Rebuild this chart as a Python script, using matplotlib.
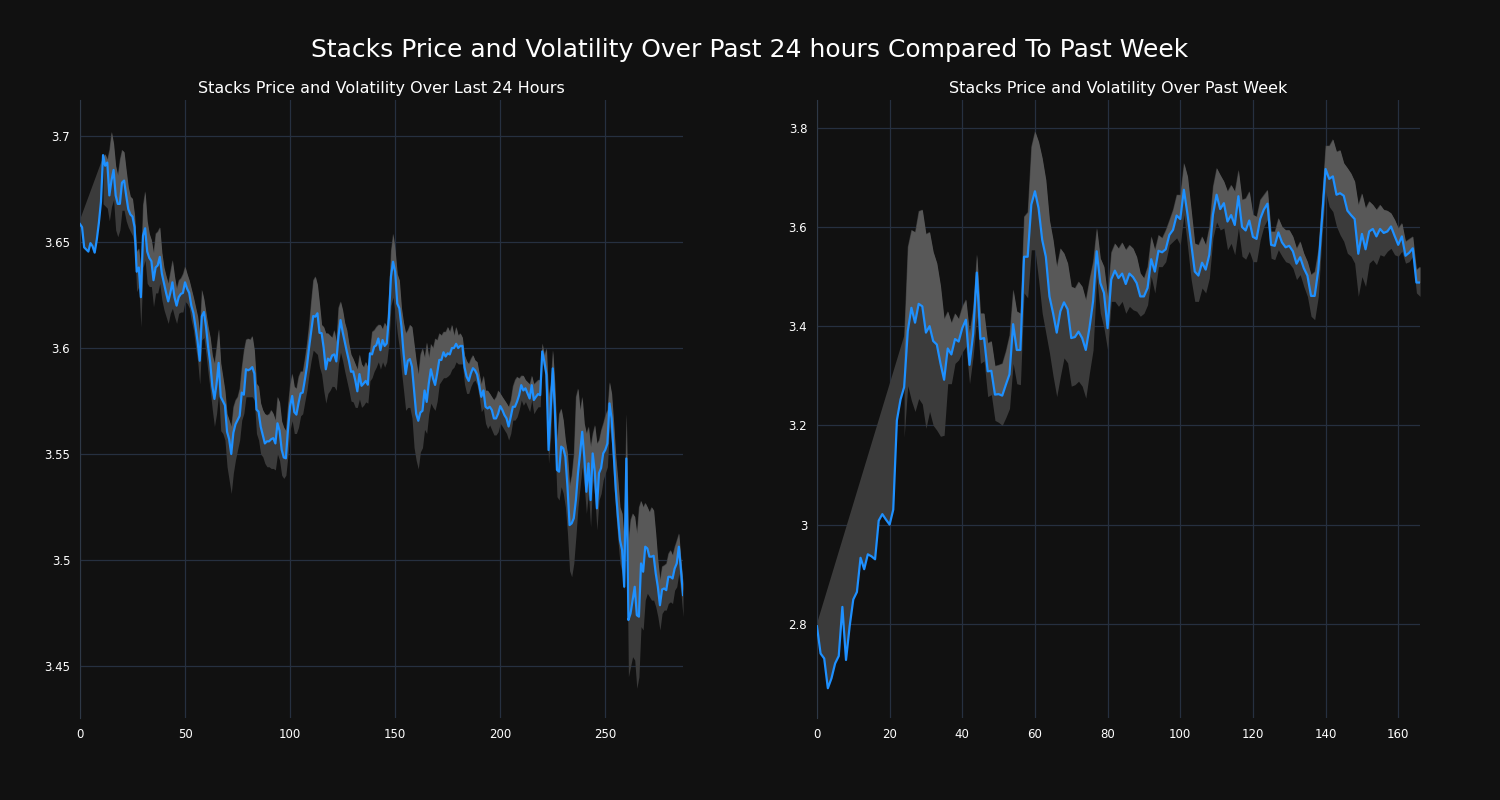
#!/usr/bin/env python

# Import necessary dependencies.
import numpy as np
import matplotlib.pyplot as plt
from matplotlib.ticker import FuncFormatter

# Last 24 hours (5 minute candles): price and band edges.
day_price = [
    3.6585, 3.657, 3.6475, 3.6465, 3.6455, 3.6495, 3.648, 3.645, 3.651, 3.659,
    3.669, 3.691, 3.686, 3.6875, 3.672, 3.679, 3.684, 3.672, 3.668, 3.668,
    3.678, 3.679, 3.672, 3.6655, 3.663, 3.662, 3.657, 3.636, 3.638, 3.624,
    3.653, 3.6565, 3.6455, 3.6425, 3.641, 3.632, 3.638, 3.639, 3.643, 3.635,
    3.6305, 3.626, 3.622, 3.626, 3.631, 3.624, 3.620, 3.624, 3.6255, 3.626,
    3.631, 3.628, 3.626, 3.620, 3.6165, 3.610, 3.603, 3.594, 3.615, 3.617,
    3.610, 3.6005, 3.593, 3.582, 3.576, 3.583, 3.593, 3.577, 3.575, 3.573,
    3.5605, 3.557, 3.550, 3.560, 3.564, 3.566, 3.568, 3.579, 3.578, 3.590,
    3.5895, 3.590, 3.591, 3.588, 3.571, 3.570, 3.563, 3.559, 3.555, 3.556,
    3.556, 3.557, 3.5575, 3.555, 3.5645, 3.561, 3.552, 3.5484, 3.548, 3.5616,
    3.5726, 3.5774, 3.5698, 3.5686, 3.574, 3.5786, 3.579, 3.5849, 3.5912, 3.600,
    3.6077, 3.6151, 3.6148, 3.6164, 3.6072, 3.607, 3.600, 3.590, 3.595, 3.594,
    3.5965, 3.597, 3.5937, 3.6053, 3.6132, 3.6077, 3.603, 3.5983, 3.594, 3.5888,
    3.589, 3.5849, 3.5796, 3.5877, 3.5822, 3.5833, 3.5845, 3.5827, 3.5975, 3.597,
    3.6006, 3.6013, 3.6045, 3.599, 3.6038, 3.601, 3.6022, 3.614, 3.6337, 3.6407,
    3.636, 3.621, 3.6187, 3.610, 3.5975, 3.5877, 3.594, 3.5948, 3.5912, 3.580,
    3.569, 3.5657, 3.5696, 3.5704, 3.580, 3.5746, 3.5833, 3.590, 3.5857, 3.5826,
    3.5881, 3.5944, 3.5944, 3.598, 3.596, 3.5975, 3.597, 3.600, 3.600, 3.602,
    3.600, 3.601, 3.601, 3.591, 3.5865, 3.5845, 3.588, 3.5905, 3.5895, 3.5875,
    3.5825, 3.577, 3.580, 3.5723, 3.5715, 3.5723, 3.5708, 3.5668, 3.5668, 3.569,
    3.5726, 3.5708, 3.5684, 3.5668, 3.563, 3.5675, 3.5723, 3.5723, 3.5747, 3.5778,
    3.5825, 3.580, 3.581, 3.5786, 3.5762, 3.5825, 3.5755, 3.577, 3.5783, 3.5778,
    3.5984, 3.5936, 3.5873, 3.5519, 3.5708, 3.5904, 3.5708, 3.5425, 3.5417, 3.5535,
    3.5527, 3.5487, 3.5346, 3.5165, 3.5173, 3.5197, 3.5283, 3.541, 3.5503, 3.5605,
    3.5487, 3.5322, 3.5456, 3.5283, 3.5503, 3.5417, 3.5244, 3.541, 3.5434, 3.5503,
    3.552, 3.555, 3.5739, 3.5668, 3.5503, 3.533, 3.5205, 3.5094, 3.5047, 3.4874,
    3.5479, 3.4717, 3.4748, 3.481, 3.4874, 3.474, 3.4733, 3.4984, 3.4945, 3.5063,
    3.5055, 3.5016, 3.5016, 3.502, 3.4937, 3.4874, 3.4787, 3.4861, 3.4866, 3.4858,
    3.4921, 3.4921, 3.4913, 3.496, 3.4984, 3.5063, 3.4953, 3.4835,
]

day_upper = [3.6604] + [None] * 10 + [
    3.690, 3.6915, 3.689, 3.6935, 3.702, 3.6965, 3.686, 3.6815, 3.689,
    3.6935, 3.6925, 3.684, 3.676, 3.6715, 3.6705, 3.6627, 3.6455, 3.647, 3.637,
    3.6675, 3.674, 3.660, 3.654, 3.651, 3.645, 3.654, 3.655, 3.657, 3.645,
    3.638, 3.634, 3.6305, 3.636, 3.6415, 3.634, 3.628, 3.632, 3.633, 3.635,
    3.6385, 3.635, 3.632, 3.628, 3.624, 3.6195, 3.615, 3.607, 3.6275, 3.623,
    3.6165, 3.610, 3.605, 3.5967, 3.5928, 3.6006, 3.609, 3.593, 3.5865, 3.580,
    3.569, 3.566, 3.563, 3.5723, 3.5755, 3.577, 3.581, 3.591, 3.599, 3.604,
    3.6045, 3.604, 3.6057, 3.599, 3.5833, 3.582, 3.574, 3.5708, 3.569, 3.5684,
    3.569, 3.5708, 3.569, 3.566, 3.577, 3.5745, 3.5655, 3.5626, 3.561, 3.573,
    3.583, 3.588, 3.5818, 3.581, 3.5865, 3.589, 3.589, 3.595, 3.602, 3.611,
    3.622, 3.632, 3.6338, 3.630, 3.621, 3.611, 3.610, 3.607, 3.607, 3.606,
    3.605, 3.6085, 3.603, 3.619, 3.622, 3.618, 3.612, 3.6085, 3.602, 3.597,
    3.595, 3.5925, 3.590, 3.597, 3.5925, 3.591, 3.5935, 3.591, 3.599, 3.6077,
    3.6085, 3.610, 3.611, 3.611, 3.609, 3.612, 3.610, 3.624, 3.646, 3.654,
    3.646, 3.635, 3.632, 3.619, 3.612, 3.607, 3.6085, 3.611, 3.610, 3.602,
    3.594, 3.5877, 3.597, 3.600, 3.5955, 3.6027, 3.5955, 3.602, 3.600, 3.6045,
    3.6038, 3.607, 3.606, 3.6077, 3.6077, 3.610, 3.6077, 3.611, 3.606, 3.610,
    3.606, 3.607, 3.605, 3.5967, 3.594, 3.5925, 3.595, 3.5967, 3.5943, 3.5935,
    3.588, 3.583, 3.587, 3.580, 3.580, 3.5786, 3.577, 3.5755, 3.577, 3.580,
    3.5786, 3.577, 3.5755, 3.574, 3.5723, 3.5755, 3.582, 3.585, 3.5865, 3.5857,
    3.587, 3.587, 3.585, 3.584, 3.583, 3.587, 3.583, 3.584, 3.585, 3.585,
    3.6022, 3.5967, 3.600, 3.577, 3.583, 3.599, 3.583, 3.5566, 3.569, 3.5715,
    3.566, 3.5566, 3.5503, 3.535, 3.540, 3.550, 3.577, 3.581, 3.5708, 3.577,
    3.5645, 3.5597, 3.563, 3.5535, 3.5597, 3.5637, 3.555, 3.5566, 3.5613, 3.5645,
    3.5684, 3.5708, 3.584, 3.5786, 3.5645, 3.5487, 3.5378, 3.525, 3.522, 3.5094,
    3.569, 3.5094, 3.519, 3.522, 3.5205, 3.5126, 3.525, 3.528, 3.525, 3.527,
    3.525, 3.5227, 3.525, 3.5235, 3.5126, 3.500, 3.4906, 3.497, 3.4976, 3.4984,
    3.5031, 3.5047, 3.5023, 3.5063, 3.5094, 3.5126, 3.500, 3.489,
]

day_lower = [None] * 11 + [
    3.668, 3.667, 3.666, 3.660, 3.6667, 3.670, 3.6557, 3.6525, 3.6557,
    3.665, 3.665, 3.660, 3.657, 3.655, 3.653, 3.648, 3.6266, 3.629, 3.610,
    3.638, 3.6415, 3.6305, 3.629, 3.629, 3.6195, 3.626, 3.626, 3.6305, 3.6226,
    3.618, 3.6148, 3.6116, 3.6164, 3.6187, 3.6148, 3.6116, 3.6164, 3.617, 3.617,
    3.622, 3.621, 3.619, 3.613, 3.6085, 3.6006, 3.594, 3.583, 3.6038, 3.605,
    3.597, 3.588, 3.580, 3.5708, 3.563, 3.569, 3.5786, 3.561, 3.5597, 3.5566,
    3.544, 3.5377, 3.5314, 3.541, 3.5472, 3.552, 3.5566, 3.566, 3.5692, 3.577,
    3.577, 3.577, 3.577, 3.5755, 3.5597, 3.5566, 3.550, 3.5487, 3.5456, 3.544,
    3.544, 3.5432, 3.5432, 3.5425, 3.550, 3.547, 3.540, 3.5385, 3.540, 3.5495,
    3.5616, 3.5657, 3.5597, 3.5597, 3.5626, 3.568, 3.569, 3.5746, 3.580, 3.5877,
    3.594, 3.599, 3.598, 3.597, 3.591, 3.5877, 3.580, 3.574, 3.5786, 3.580,
    3.582, 3.5818, 3.580, 3.5925, 3.598, 3.594, 3.589, 3.5845, 3.580, 3.575,
    3.5746, 3.572, 3.572, 3.576, 3.572, 3.573, 3.5746, 3.574, 3.5845, 3.586,
    3.589, 3.591, 3.5935, 3.590, 3.5935, 3.591, 3.5935, 3.602, 3.620, 3.624,
    3.616, 3.607, 3.600, 3.589, 3.580, 3.5706, 3.572, 3.572, 3.567, 3.553,
    3.547, 3.543, 3.551, 3.553, 3.5616, 3.5597, 3.569, 3.574, 3.572, 3.5706,
    3.575, 3.583, 3.5845, 3.586, 3.586, 3.5867, 3.5877, 3.590, 3.591, 3.5935,
    3.5925, 3.5925, 3.5925, 3.583, 3.5786, 3.5786, 3.5818, 3.584, 3.5849, 3.5825,
    3.577, 3.570, 3.5715, 3.5645, 3.562, 3.5637, 3.5613, 3.559, 3.559, 3.5605,
    3.5645, 3.563, 3.5613, 3.5597, 3.5566, 3.5597, 3.566, 3.566, 3.5675, 3.5708,
    3.5755, 3.573, 3.5747, 3.5723, 3.570, 3.5755, 3.569, 3.5708, 3.5723, 3.5723,
    3.5936, 3.5896, 3.5723, 3.5456, 3.558, 3.5817, 3.5566, 3.5299, 3.5283, 3.5346,
    3.5314, 3.525, 3.5126, 3.495, 3.4921, 3.4984, 3.511, 3.525, 3.5346, 3.544,
    3.5346, 3.522, 3.5314, 3.5157, 3.5378, 3.5299, 3.5142, 3.5283, 3.5314, 3.5378,
    3.541, 3.544, 3.563, 3.555, 3.5378, 3.522, 3.5094, 3.4984, 3.4937, 3.4858,
    3.5346, 3.4449, 3.4497, 3.4544, 3.4528, 3.4395, 3.4449, 3.4686, 3.467, 3.4811,
    3.4843, 3.4827, 3.4811, 3.4811, 3.478, 3.4733, 3.467, 3.4748, 3.4764, 3.4764,
    3.4795, 3.4803, 3.4795, 3.4858, 3.4874, 3.4937, 3.4843, 3.4733,
]

# Past week (hourly candles): price and band edges.
week_price = [
    2.795, 2.74, 2.73, 2.67, 2.69, 2.72, 2.735, 2.834, 2.727, 2.795,
    2.849, 2.864, 2.933, 2.91, 2.94, 2.936, 2.93, 3.008, 3.021, 3.01,
    3.00, 3.03, 3.21, 3.252, 3.277, 3.39, 3.437, 3.407, 3.445, 3.44,
    3.387, 3.40, 3.37, 3.363, 3.325, 3.292, 3.355, 3.343, 3.374, 3.369,
    3.396, 3.413, 3.322, 3.385, 3.508, 3.374, 3.376, 3.309, 3.31, 3.262,
    3.263, 3.26, 3.282, 3.303, 3.404, 3.352, 3.352, 3.54, 3.54, 3.645,
    3.672, 3.638, 3.574, 3.54, 3.46, 3.426, 3.387, 3.43, 3.448, 3.434,
    3.376, 3.378, 3.389, 3.376, 3.352, 3.396, 3.45, 3.551, 3.487, 3.467,
    3.396, 3.494, 3.512, 3.497, 3.506, 3.485, 3.506, 3.499, 3.487, 3.46,
    3.46, 3.477, 3.535, 3.51, 3.552, 3.549, 3.555, 3.584, 3.594, 3.623,
    3.616, 3.675, 3.625, 3.567, 3.51, 3.502, 3.528, 3.514, 3.544, 3.625,
    3.665, 3.636, 3.648, 3.611, 3.624, 3.604, 3.662, 3.60, 3.593, 3.613,
    3.58, 3.576, 3.616, 3.635, 3.647, 3.564, 3.562, 3.589, 3.569, 3.559,
    3.562, 3.551, 3.526, 3.539, 3.517, 3.502, 3.461, 3.461, 3.514, 3.615,
    3.717, 3.697, 3.702, 3.665, 3.668, 3.663, 3.633, 3.624, 3.616, 3.546,
    3.586, 3.555, 3.591, 3.596, 3.581, 3.596, 3.588, 3.591, 3.601, 3.582,
    3.564, 3.581, 3.542, 3.548, 3.557, 3.488, 3.488,
]

week_upper = [2.80] + [None] * 23 + [
    3.38, 3.56, 3.594, 3.59, 3.632, 3.635, 3.586, 3.59, 3.55, 3.527,
    3.482, 3.415, 3.43, 3.407, 3.426, 3.415, 3.44, 3.454, 3.385, 3.437,
    3.545, 3.426, 3.426, 3.366, 3.37, 3.32, 3.322, 3.325, 3.35, 3.382,
    3.474, 3.43, 3.426, 3.621, 3.63, 3.762, 3.793, 3.772, 3.739, 3.695,
    3.614, 3.574, 3.52, 3.557, 3.547, 3.527, 3.48, 3.477, 3.49, 3.48,
    3.453, 3.494, 3.53, 3.598, 3.537, 3.52, 3.46, 3.549, 3.567, 3.557,
    3.569, 3.554, 3.564, 3.557, 3.54, 3.507, 3.497, 3.52, 3.581, 3.554,
    3.584, 3.578, 3.594, 3.614, 3.635, 3.665, 3.665, 3.729, 3.702, 3.635,
    3.567, 3.564, 3.581, 3.564, 3.601, 3.682, 3.719, 3.705, 3.692, 3.672,
    3.685, 3.672, 3.715, 3.655, 3.658, 3.672, 3.625, 3.621, 3.655, 3.665,
    3.675, 3.591, 3.591, 3.618, 3.601, 3.594, 3.594, 3.581, 3.557, 3.571,
    3.547, 3.53, 3.504, 3.51, 3.554, 3.655, 3.764, 3.764, 3.777, 3.752,
    3.755, 3.729, 3.719, 3.708, 3.692, 3.645, 3.668, 3.638, 3.652, 3.645,
    3.635, 3.645, 3.635, 3.633, 3.628, 3.615, 3.598, 3.608, 3.571, 3.576,
    3.581, 3.514, 3.52,
]

week_lower = [None] * 24 + [
    3.176, 3.28, 3.25, 3.228, 3.254, 3.243, 3.194, 3.228, 3.20, 3.19,
    3.178, 3.18, 3.284, 3.284, 3.325, 3.332, 3.348, 3.359, 3.284, 3.34,
    3.42, 3.325, 3.33, 3.258, 3.262, 3.21, 3.206, 3.20, 3.216, 3.234,
    3.325, 3.284, 3.282, 3.467, 3.457, 3.554, 3.554, 3.494, 3.426, 3.386,
    3.346, 3.299, 3.258, 3.299, 3.336, 3.326, 3.279, 3.282, 3.289, 3.279,
    3.255, 3.306, 3.352, 3.50, 3.426, 3.396, 3.352, 3.45, 3.45, 3.44,
    3.45, 3.426, 3.44, 3.433, 3.43, 3.42, 3.426, 3.443, 3.50, 3.467,
    3.52, 3.52, 3.53, 3.564, 3.571, 3.578, 3.564, 3.625, 3.561, 3.494,
    3.45, 3.45, 3.477, 3.467, 3.497, 3.578, 3.61, 3.594, 3.598, 3.554,
    3.567, 3.544, 3.598, 3.541, 3.535, 3.551, 3.53, 3.53, 3.574, 3.601,
    3.615, 3.537, 3.534, 3.554, 3.541, 3.53, 3.527, 3.517, 3.494, 3.504,
    3.48, 3.46, 3.42, 3.413, 3.46, 3.581, 3.672, 3.641, 3.631, 3.601,
    3.584, 3.571, 3.547, 3.541, 3.527, 3.46, 3.50, 3.48, 3.527, 3.534,
    3.524, 3.544, 3.541, 3.551, 3.557, 3.544, 3.541, 3.551, 3.527, 3.53,
    3.541, 3.467, 3.46,
]

# Colours.
BG = '#111111'
GRID = '#263040'
LINE = '#1e90ff'
BAND_DARK = '#3b3b3b'
BAND_LIGHT = '#585858'
TEXT = '#ffffff'


def draw_panel(ax, price, upper, lower, title):
    price = np.array(price, dtype=float)
    x = np.arange(len(price))

    # Dark fill over the whole upper band, including the warm-up stretch.
    up = np.array(upper, dtype=float)
    ok = ~np.isnan(up)
    xs = np.concatenate([x[ok], x[::-1]])
    ys = np.concatenate([up[ok], price[::-1]])
    ax.fill(xs, ys, color=BAND_DARK, lw=0, zorder=1)

    # Light fill above the price once the band is valid.
    up_valid = up.copy()
    up_valid[0] = np.nan
    first = np.argmax(~np.isnan(up_valid))
    ax.fill_between(x[first:], price[first:], up_valid[first:],
                    color=BAND_LIGHT, lw=0, zorder=2)

    # Dark fill below the price.
    lo = np.array(lower, dtype=float)
    first = np.argmax(~np.isnan(lo))
    ax.fill_between(x[first:], lo[first:], price[first:],
                    color=BAND_DARK, lw=0, zorder=2)

    ax.plot(x, price, color=LINE, lw=1.6, zorder=3)

    ax.set_facecolor(BG)
    ax.margins(x=0)
    ax.grid(True, color=GRID, lw=0.9)
    ax.set_axisbelow(True)
    for side in ['top', 'right', 'bottom']:
        ax.spines[side].set_visible(False)
    ax.spines['left'].set_color('#2e3846')
    ax.tick_params(colors=TEXT, labelsize=8.5, length=0, pad=7)
    ax.yaxis.set_major_formatter(FuncFormatter(lambda v, p: f'{v:g}'))
    ax.set_title(title, color=TEXT, fontsize=11.5, pad=5)


fig, (ax1, ax2) = plt.subplots(1, 2, figsize=(15, 8), dpi=100)
fig.patch.set_facecolor(BG)
fig.subplots_adjust(left=0.0533, right=0.9467, bottom=0.1025, top=0.875,
                    wspace=0.222)

draw_panel(ax1, day_price, day_upper, day_lower,
           'Stacks Price and Volatility Over Last 24 Hours')
ax1.set_xticks([0, 50, 100, 150, 200, 250])
ax1.set_ylim(3.4255, 3.717)

draw_panel(ax2, week_price, week_upper, week_lower,
           'Stacks Price and Volatility Over Past Week')
ax2.set_xticks([0, 20, 40, 60, 80, 100, 120, 140, 160])
ax2.set_ylim(2.610, 3.856)

fig.suptitle('Stacks Price and Volatility Over Past 24 hours Compared To Past Week',
             color=TEXT, fontsize=18, y=0.952)

plt.savefig('out.png', facecolor=BG)
